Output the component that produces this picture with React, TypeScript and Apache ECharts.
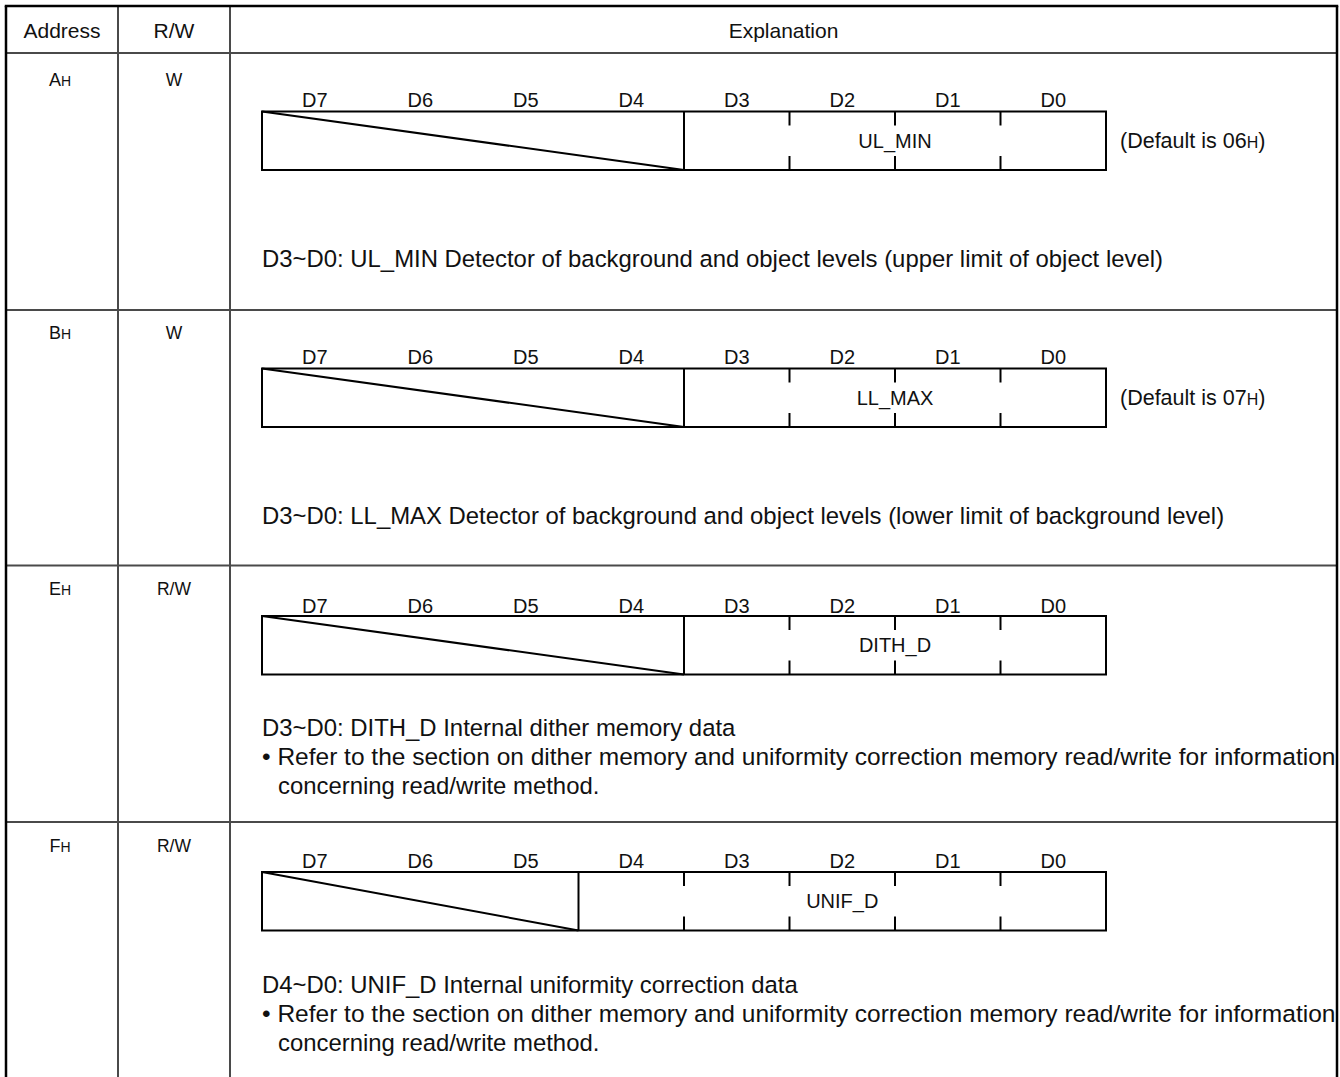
import React, { useEffect, useRef } from 'react';
import * as echarts from 'echarts';

// ---------- content ----------
const HEADERS = ['Address', 'R/W', 'Explanation'];
const ADDRESSES = ['A', 'B', 'E', 'F'];
const HEX_SUFFIX = 'H';
const RW_MODES = ['W', 'W', 'R/W', 'R/W'];
const BIT_LABELS = ['D7', 'D6', 'D5', 'D4', 'D3', 'D2', 'D1', 'D0'];
const FIELD_NAMES = ['UL_MIN', 'LL_MAX', 'DITH_D', 'UNIF_D'];
const FIELD_MSB = [3, 3, 3, 4];
const DEFAULT_VALUES = ['06', '07', '', ''];
const DESCRIPTIONS: string[][] = [
  ['D3~D0: UL_MIN Detector of background and object levels (upper limit of object level)'],
  ['D3~D0: LL_MAX Detector of background and object levels (lower limit of background level)'],
  [
    'D3~D0: DITH_D Internal dither memory data',
    '• Refer to the section on dither memory and uniformity correction memory read/write for information',
    'concerning read/write method.',
  ],
  [
    'D4~D0: UNIF_D Internal uniformity correction data',
    '• Refer to the section on dither memory and uniformity correction memory read/write for information',
    'concerning read/write method.',
  ],
];

// ---------- layout ----------
const FONT = '"Liberation Sans", Arial, Helvetica, sans-serif';
const INK = '#111';
const GRID = '#4a4a4a';
const XL = 6, XC1 = 118, XC2 = 230, XR = 1337;
const YT = 6, YHEAD = 53, YB = 1077;
const ROW_TOPS = [53, 310, 565.5, 822];
const ADDR_Y = [80, 333, 589, 846];
const LABEL_Y = [100, 357, 606, 861];
const BOX_TOP = [111.5, 368.5, 616, 872];
const BOX_H = 58.5;
const DESC_Y = [258.5, 515, 727.5, 984];
const DESC_STEP = 29;
const BOX_L = 262, BIT_W = 105.5;
const TICK = 14;

let measureCtx: CanvasRenderingContext2D | null = null;
function measure(t: string, size: number) {
  if (!measureCtx) measureCtx = document.createElement('canvas').getContext('2d');
  measureCtx!.font = `${size}px ${FONT}`;
  return measureCtx!.measureText(t).width;
}

function buildGraphics() {
  const g: any[] = [];
  const line = (x1: number, y1: number, x2: number, y2: number, stroke: string, w: number) =>
    g.push({ type: 'line', shape: { x1, y1, x2, y2 }, style: { stroke, lineWidth: w }, silent: true });
  const text = (x: number, y: number, t: string, size: number, align = 'center', vAlign = 'middle') =>
    g.push({
      type: 'text', x, y, silent: true,
      style: { text: t, fontSize: size, fontFamily: FONT, fill: INK, align, verticalAlign: vAlign },
    });
  // text with a small "H" hex suffix; bottoms aligned; starts at x
  const hexText = (x: number, yMid: number, parts: [string, string, string], big: number, small: number) => {
    const yBottom = yMid + big / 2;
    let cx = x;
    const seg = (t: string, s: number) => {
      if (!t) return;
      g.push({
        type: 'text', x: cx, y: yBottom - (big - s) * 0.2, silent: true,
        style: { text: t, fontSize: s, fontFamily: FONT, fill: INK, align: 'left', verticalAlign: 'bottom' },
      });
      cx += measure(t, s);
    };
    seg(parts[0], big);
    seg(parts[1], small);
    seg(parts[2], big);
    return cx - x;
  };

  // grid lines (inner)
  line(XL, YHEAD, XR, YHEAD, GRID, 2);
  ROW_TOPS.slice(1).forEach((y) => line(XL, y, XR, y, GRID, 2));
  line(XC1, YT, XC1, YB, GRID, 2);
  line(XC2, YT, XC2, YB, GRID, 2);
  // outer border
  line(XL - 1.25, YT, XR + 1.25, YT, '#000', 2.5);
  line(XL, YT, XL, YB, '#000', 2.5);
  line(XR, YT, XR, YB, '#000', 2.5);

  // headers
  text((XL + XC1) / 2, 30, HEADERS[0], 21);
  text((XC1 + XC2) / 2, 30, HEADERS[1], 21);
  text((XC2 + XR) / 2, 30, HEADERS[2], 21);

  ADDRESSES.forEach((addr, i) => {
    // address + R/W
    const w = measure(addr, 18) + measure(HEX_SUFFIX, 14);
    hexText((XL + XC1) / 2 - 2 - w / 2, ADDR_Y[i], [addr, HEX_SUFFIX, ''], 18, 14);
    text((XC1 + XC2) / 2, ADDR_Y[i], RW_MODES[i], 17.5);

    // bit labels
    BIT_LABELS.forEach((b, k) => text(BOX_L + BIT_W * (k + 0.5), LABEL_Y[i], b, 20));

    const top = BOX_TOP[i], bot = top + BOX_H;
    const right = BOX_L + BIT_W * 8;
    const split = BOX_L + BIT_W * (7 - FIELD_MSB[i]);
    // box
    g.push({
      type: 'rect', silent: true,
      shape: { x: BOX_L, y: top, width: right - BOX_L, height: BOX_H },
      style: { fill: 'none', stroke: '#000', lineWidth: 2 },
    });
    // unused-bit divider + diagonal
    line(split, top, split, bot, '#000', 2);
    line(BOX_L, top, split, bot, '#000', 2);
    // ticks between bits of the field
    for (let k = 8 - FIELD_MSB[i]; k < 8; k++) {
      const x = BOX_L + BIT_W * k;
      line(x, top, x, top + TICK, '#000', 2);
      line(x, bot - TICK, x, bot, '#000', 2);
    }
    // field name
    text((split + right) / 2, top + BOX_H / 2, FIELD_NAMES[i], 20);
    // default
    if (DEFAULT_VALUES[i]) {
      hexText(right + 14, top + BOX_H / 2, [`(Default is ${DEFAULT_VALUES[i]}`, HEX_SUFFIX, ')'], 21.5, 16);
    }
    // descriptions
    DESCRIPTIONS[i].forEach((d, k) => {
      const indent = k === 2 ? 16 : 0;
      const size = k === 1 ? 24.5 : 23.9;
      text(BOX_L + indent, DESC_Y[i] + DESC_STEP * k, d, size, 'left');
    });
  });
  return g;
}

export default function App() {
  const ref = useRef<HTMLDivElement>(null);
  useEffect(() => {
    document.body.style.margin = '0';
    const chart = echarts.init(ref.current!, undefined, { renderer: 'svg' });
    chart.setOption({
      animation: false,
      backgroundColor: '#fff',
      graphic: { elements: buildGraphics() },
    });
    return () => chart.dispose();
  }, []);
  return <div ref={ref} style={{ width: 1340, height: 1077, background: '#fff' }} />;
}
